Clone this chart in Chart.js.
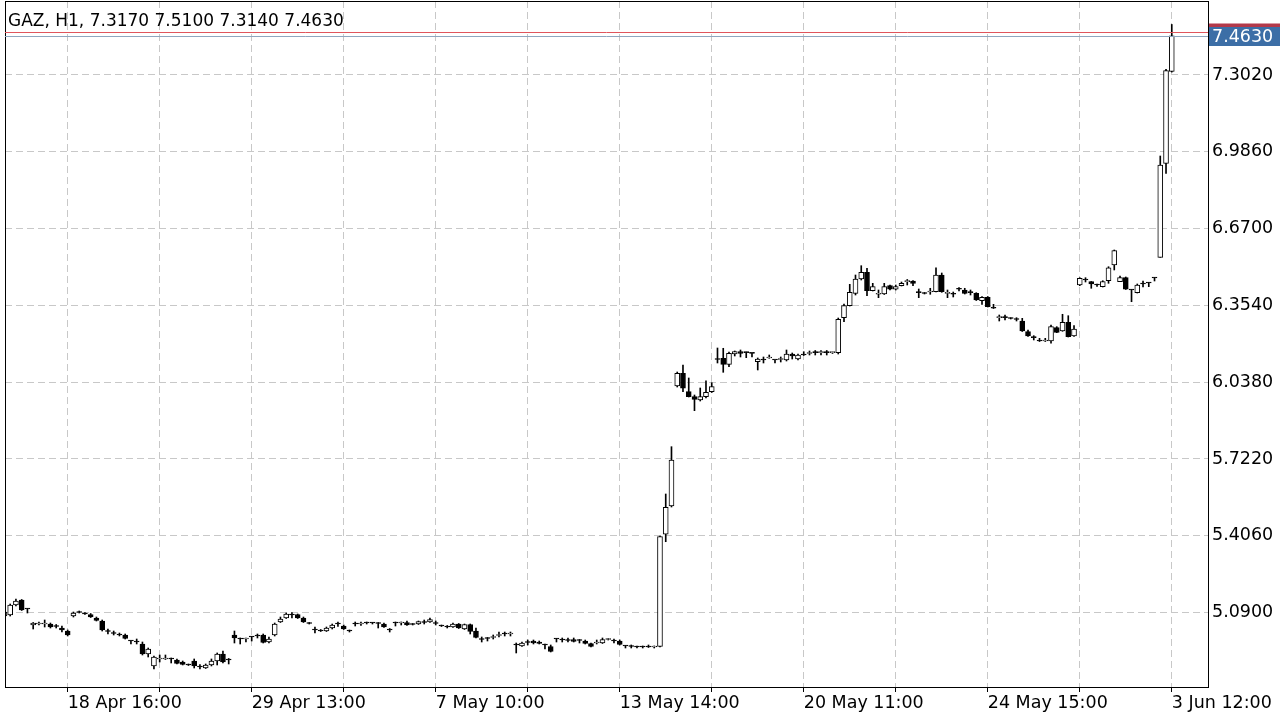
<!DOCTYPE html>
<html>
<head>
<meta charset="utf-8">
<title>GAZ, H1</title>
<script src="https://cdn.jsdelivr.net/npm/chart.js@4.4.1/dist/chart.umd.min.js"></script>
<style>
    html, body { margin: 0; padding: 0; background: #fff; }
    #gazChart { display: block; }
</style>
</head>
<body>
<canvas id="gazChart" width="1280" height="719"></canvas>
<script>
const symbol = 'GAZ';
const timeframe = 'H1';

// one value per H1 bar, oldest first
const opens = [
    5.0757, 5.0799, 5.1210, 5.1416, 5.1045, 5.0387, 5.0428, 5.0428, 5.0428, 5.0346,
    5.0264, 5.0140, 5.0757, 5.0922, 5.0881, 5.0819, 5.0675, 5.0552, 5.0140, 5.0058,
    5.0017, 4.9976, 4.9729, 4.9729, 4.9606, 4.9194, 4.8701, 4.8989, 4.8989, 4.9010,
    4.8947, 4.8865, 4.8762, 4.8906, 4.8660, 4.8618, 4.8742, 4.8906, 4.9194, 4.8989,
    4.9976, 4.9832, 4.9811, 4.9894, 4.9935, 4.9976, 4.9688, 4.9976, 5.0511, 5.0675,
    5.0799, 5.0819, 5.0675, 5.0469, 5.0202, 5.0181, 5.0140, 5.0264, 5.0428, 5.0346,
    5.0161, 5.0428, 5.0428, 5.0490, 5.0469, 5.0469, 5.0428, 5.0202, 5.0469, 5.0469,
    5.0490, 5.0428, 5.0428, 5.0511, 5.0511, 5.0469, 5.0367, 5.0346, 5.0305, 5.0428,
    5.0223, 5.0408, 5.0140, 4.9811, 4.9853, 4.9873, 4.9955, 5.0017, 5.0017, 4.9565,
    4.9524, 4.9668, 4.9729, 4.9688, 4.9585, 4.9503, 4.9811, 4.9770, 4.9770, 4.9791,
    4.9770, 4.9729, 4.9626, 4.9647, 4.9647, 4.9791, 4.9750, 4.9729, 4.9524, 4.9503,
    4.9503, 4.9503, 4.9482, 4.9482, 4.9503, 5.4120, 5.5284, 6.0222, 6.0745, 5.9988,
    5.9782, 5.9646, 5.9782, 5.9988, 6.1333, 6.1362, 6.1115, 6.1539, 6.1634, 6.1601,
    6.1580, 6.1222, 6.1292, 6.1375, 6.1292, 6.1313, 6.1292, 6.1539, 6.1333, 6.1498,
    6.1560, 6.1593, 6.1593, 6.1601, 6.1593, 6.1593, 6.3033, 6.3527, 6.4037, 6.4625,
    6.4901, 6.4144, 6.3996, 6.4008, 6.4350, 6.4202, 6.4350, 6.4514, 6.4543, 6.4062,
    6.4049, 6.4090, 6.4103, 6.4790, 6.4037, 6.4008, 6.4202, 6.4173, 6.4078, 6.4037,
    6.3732, 6.3872, 6.3420, 6.3033, 6.3041, 6.3020, 6.2979, 6.2897, 6.2457, 6.2210,
    6.2074, 6.2074, 6.2074, 6.2622, 6.2486, 6.2844, 6.2280, 6.4378, 6.4584, 6.4514,
    6.4378, 6.4309, 6.4555, 6.5201, 6.4514, 6.4679, 6.4173, 6.4062, 6.4420, 6.4477,
    6.4679, 6.5518, 6.9386, 7.3170
];
const highs = [
    5.0963, 5.1251, 5.1457, 5.1437, 5.1066, 5.0490, 5.0511, 5.0593, 5.0469, 5.0408,
    5.0346, 5.0181, 5.0922, 5.0963, 5.0901, 5.0860, 5.0716, 5.0593, 5.0223, 5.0140,
    5.0058, 5.0017, 4.9750, 4.9811, 4.9688, 4.9441, 4.9112, 4.9153, 4.9153, 4.9030,
    4.8989, 4.8906, 4.8783, 4.8989, 4.8762, 4.8783, 4.8989, 4.9236, 4.9318, 4.9010,
    5.0140, 4.9853, 4.9853, 4.9914, 5.0017, 5.0017, 4.9894, 5.0469, 5.0716, 5.0881,
    5.0901, 5.0840, 5.0716, 5.0490, 5.0305, 5.0202, 5.0305, 5.0428, 5.0511, 5.0387,
    5.0181, 5.0511, 5.0511, 5.0511, 5.0490, 5.0490, 5.0469, 5.0243, 5.0511, 5.0511,
    5.0552, 5.0449, 5.0552, 5.0593, 5.0675, 5.0552, 5.0387, 5.0367, 5.0469, 5.0449,
    5.0428, 5.0428, 5.0264, 4.9894, 4.9873, 4.9976, 5.0099, 5.0099, 5.0099, 4.9647,
    4.9688, 4.9770, 4.9770, 4.9729, 4.9606, 4.9565, 4.9832, 4.9853, 4.9853, 4.9853,
    4.9791, 4.9770, 4.9647, 4.9770, 4.9853, 4.9832, 4.9811, 4.9770, 4.9544, 4.9565,
    4.9524, 4.9524, 4.9565, 4.9524, 5.4050, 5.5778, 5.7725, 6.0798, 6.1086, 6.0552,
    5.9852, 6.0140, 6.0440, 6.0358, 6.1786, 6.1774, 6.1622, 6.1663, 6.1704, 6.1622,
    6.1589, 6.1375, 6.1416, 6.1498, 6.1300, 6.1416, 6.1704, 6.1580, 6.1539, 6.1634,
    6.1663, 6.1683, 6.1683, 6.1683, 6.1622, 6.3020, 6.3597, 6.4407, 6.4790, 6.5173,
    6.5066, 6.4448, 6.4173, 6.4448, 6.4378, 6.4378, 6.4502, 6.4605, 6.4564, 6.4214,
    6.4070, 6.4243, 6.5090, 6.4872, 6.4173, 6.4090, 6.4276, 6.4243, 6.4173, 6.4062,
    6.3905, 6.3905, 6.3584, 6.3144, 6.3144, 6.3033, 6.3033, 6.3008, 6.2527, 6.2293,
    6.2185, 6.2185, 6.2733, 6.2663, 6.3173, 6.3115, 6.2704, 6.4679, 6.4679, 6.4522,
    6.4420, 6.4555, 6.5131, 6.5819, 6.4749, 6.4708, 6.4194, 6.4420, 6.4543, 6.4481,
    6.4687, 6.9687, 7.3255, 7.5100
];
const lows = [
    5.0716, 5.0757, 5.1169, 5.0984, 5.0881, 5.0223, 5.0387, 5.0305, 5.0264, 5.0264,
    5.0099, 4.9935, 5.0716, 5.0881, 5.0819, 5.0696, 5.0552, 5.0140, 5.0017, 4.9976,
    4.9935, 4.9811, 4.9606, 4.9606, 4.9153, 4.9071, 4.8577, 4.8865, 4.8968, 4.8824,
    4.8783, 4.8742, 4.8721, 4.8618, 4.8577, 4.8598, 4.8701, 4.8742, 4.8824, 4.8783,
    4.9647, 4.9606, 4.9688, 4.9729, 4.9853, 4.9647, 4.9647, 4.9935, 5.0490, 5.0655,
    5.0675, 5.0655, 5.0490, 5.0428, 5.0058, 5.0120, 5.0120, 5.0223, 5.0325, 5.0202,
    5.0099, 5.0346, 5.0367, 5.0428, 5.0428, 5.0264, 5.0284, 5.0099, 5.0346, 5.0387,
    5.0367, 5.0387, 5.0408, 5.0428, 5.0490, 5.0387, 5.0325, 5.0264, 5.0284, 5.0243,
    5.0202, 5.0017, 4.9853, 4.9688, 4.9729, 4.9811, 4.9894, 4.9935, 4.9935, 4.9236,
    4.9503, 4.9565, 4.9606, 4.9606, 4.9400, 4.9277, 4.9688, 4.9688, 4.9688, 4.9688,
    4.9647, 4.9606, 4.9482, 4.9606, 4.9626, 4.9770, 4.9647, 4.9565, 4.9441, 4.9441,
    4.9441, 4.9441, 4.9462, 4.9441, 4.9482, 5.3815, 5.5243, 6.0181, 5.9988, 5.9770,
    5.9206, 5.9605, 5.9729, 5.9955, 6.1169, 6.0786, 6.1017, 6.1457, 6.1416, 6.1387,
    6.1416, 6.0881, 6.1169, 6.1362, 6.1169, 6.1210, 6.1251, 6.1333, 6.1292, 6.1477,
    6.1498, 6.1498, 6.1498, 6.1498, 6.1560, 6.1539, 6.2868, 6.3514, 6.3967, 6.4584,
    6.3938, 6.4132, 6.3856, 6.3988, 6.4173, 6.4173, 6.4338, 6.4378, 6.4350, 6.3856,
    6.4008, 6.3996, 6.4090, 6.4078, 6.3856, 6.3885, 6.4132, 6.4008, 6.3967, 6.3741,
    6.3584, 6.3473, 6.3412, 6.2897, 6.2938, 6.2979, 6.2897, 6.2465, 6.2260, 6.2116,
    6.2053, 6.2053, 6.1980, 6.2416, 6.2473, 6.2239, 6.2260, 6.4350, 6.4502, 6.4243,
    6.4325, 6.4296, 6.4448, 6.4996, 6.4514, 6.4194, 6.3691, 6.4049, 6.4296, 6.4309,
    6.4543, 6.5518, 6.8975, 7.3140
];
const closes = [
    5.0922, 5.1210, 5.1375, 5.1004, 5.1045, 5.0469, 5.0449, 5.0449, 5.0305, 5.0325,
    5.0181, 4.9976, 5.0881, 5.0901, 5.0840, 5.0716, 5.0572, 5.0181, 5.0120, 5.0037,
    4.9976, 4.9832, 4.9729, 4.9688, 4.9194, 4.9400, 4.9071, 4.9030, 4.9010, 4.8989,
    4.8803, 4.8762, 4.8742, 4.8701, 4.8660, 4.8742, 4.8906, 4.9194, 4.8865, 4.8947,
    4.9853, 4.9811, 4.9853, 4.9894, 4.9935, 4.9668, 4.9811, 5.0428, 5.0634, 5.0840,
    5.0799, 5.0675, 5.0511, 5.0449, 5.0181, 5.0140, 5.0264, 5.0387, 5.0428, 5.0223,
    5.0140, 5.0428, 5.0449, 5.0469, 5.0469, 5.0449, 5.0305, 5.0181, 5.0469, 5.0490,
    5.0387, 5.0408, 5.0531, 5.0490, 5.0614, 5.0449, 5.0346, 5.0305, 5.0428, 5.0264,
    5.0408, 5.0120, 4.9873, 4.9791, 4.9832, 4.9894, 4.9976, 5.0017, 5.0037, 4.9565,
    4.9647, 4.9668, 4.9647, 4.9626, 4.9565, 4.9297, 4.9811, 4.9770, 4.9750, 4.9709,
    4.9750, 4.9626, 4.9503, 4.9668, 4.9791, 4.9811, 4.9729, 4.9585, 4.9524, 4.9503,
    4.9482, 4.9482, 4.9482, 4.9503, 5.4021, 5.5231, 5.7177, 6.0745, 6.0128, 5.9782,
    5.9675, 5.9782, 5.9963, 6.0194, 6.1313, 6.1115, 6.1568, 6.1634, 6.1568, 6.1593,
    6.1568, 6.1333, 6.1292, 6.1387, 6.1292, 6.1333, 6.1539, 6.1457, 6.1498, 6.1498,
    6.1568, 6.1593, 6.1601, 6.1593, 6.1601, 6.2967, 6.3527, 6.4078, 6.4625, 6.4901,
    6.4144, 6.4309, 6.4008, 6.4309, 6.4202, 6.4309, 6.4448, 6.4522, 6.4448, 6.4062,
    6.4029, 6.4111, 6.4790, 6.4103, 6.4049, 6.3996, 6.4202, 6.4037, 6.4062, 6.3761,
    6.3872, 6.3486, 6.3420, 6.3041, 6.3033, 6.2999, 6.2959, 6.2486, 6.2280, 6.2210,
    6.2074, 6.2087, 6.2663, 6.2432, 6.2844, 6.2251, 6.2568, 6.4654, 6.4584, 6.4420,
    6.4378, 6.4514, 6.5090, 6.5790, 6.4679, 6.4202, 6.4173, 6.4378, 6.4420, 6.4461,
    6.4667, 6.9316, 7.3197, 7.4630
];

// vertical grid every 16 bars, a time label on every second line
const gridBars = [11, 27, 43, 59, 75, 91, 107, 123, 139, 155, 171, 187, 203];
const timeLabels = ['18 Apr 16:00', '', '29 Apr 13:00', '', '7 May 10:00', '', '13 May 14:00', '',
    '20 May 11:00', '', '24 May 15:00', '', '3 Jun 12:00'];
const priceTicks = [5.0900, 5.4060, 5.7220, 6.0380, 6.3540, 6.6700, 6.9860, 7.3020];
const askPrice = 7.4790;

const last = closes.length - 1;
const bidPrice = closes[last];

const wickData = highs.map((h, i) => ({ x: i, y: [lows[i], h] }));
const bodyData = opens.map((o, i) => ({ x: i, y: [Math.min(o, closes[i]), Math.max(o, closes[i])] }));
const bodyFill = opens.map((o, i) => closes[i] > o ? '#ffffff' : '#000000');

const FONT = { family: "'DejaVu Sans', sans-serif", size: 17.5 };
const fontStr = "17px 'DejaVu Sans', sans-serif";

const overlay = {
    id: 'overlay',
    afterDraw(chart) {
        const c = chart.ctx;
        const area = chart.chartArea;
        const yScale = chart.scales.y;
        c.save();

        c.strokeStyle = '#000';
        c.lineWidth = 1;
        c.strokeRect(area.left + 0.5, area.top + 0.5, area.right - area.left, area.bottom - area.top);

        const askY = Math.round(yScale.getPixelForValue(askPrice)) + 0.5;
        const bidY = Math.round(yScale.getPixelForValue(bidPrice)) + 0.5;

        c.strokeStyle = '#8fa6bf';
        c.beginPath();
        c.moveTo(area.left, bidY);
        c.lineTo(area.right, bidY);
        c.stroke();

        c.strokeStyle = '#e0555c';
        c.beginPath();
        c.moveTo(area.left, askY);
        c.lineTo(area.right, askY);
        c.stroke();

        // price boxes on the axis
        c.fillStyle = '#b2394a';
        c.fillRect(area.right + 1, askY - 9, chart.width - area.right - 1, 18);
        c.fillStyle = '#3c6ea6';
        c.fillRect(area.right + 1, bidY - 9.5, chart.width - area.right - 1, 19);
        c.fillStyle = '#fff';
        c.font = "17.5px 'DejaVu Sans', sans-serif";
        c.textBaseline = 'middle';
        c.textAlign = 'left';
        c.fillText(bidPrice.toFixed(4), area.right + 4, bidY + 1);

        c.fillStyle = '#000';
        c.font = fontStr;
        c.textBaseline = 'alphabetic';
        const head = `${symbol}, ${timeframe}, ${opens[last].toFixed(4)} ${highs[last].toFixed(4)} ${lows[last].toFixed(4)} ${closes[last].toFixed(4)}`;
        c.fillText(head, 8, 26);
        c.restore();
    }
};

const ctx = document.getElementById('gazChart').getContext('2d');
const gazChart = new Chart(ctx, {
    type: 'bar',
    data: {
        datasets: [{
            label: 'body',
            data: bodyData,
            backgroundColor: bodyFill,
            borderColor: '#000',
            borderWidth: 1,
            borderSkipped: false,
            barThickness: 5,
            minBarLength: 1,
            grouped: false,
            order: 0
        }, {
            label: 'wick',
            data: wickData,
            backgroundColor: '#000',
            borderWidth: 0,
            barThickness: 1,
            grouped: false,
            order: 1
        }]
    },
    options: {
        responsive: false,
        animation: false,
        events: [],
        layout: { padding: { top: 1, left: 5, right: 0, bottom: 0 } },
        plugins: {
            legend: { display: false },
            tooltip: { enabled: false }
        },
        scales: {
            x: {
                type: 'linear',
                min: 0.1,
                max: 209.3,
                offset: false,
                afterBuildTicks: s => { s.ticks = gridBars.map(v => ({ value: v })); },
                afterFit: s => { s.height = 32; s.paddingLeft = 0; s.paddingRight = 0; },
                ticks: {
                    autoSkip: false,
                    maxRotation: 0,
                    minRotation: 0,
                    align: 'start',
                    padding: 1,
                    color: '#000',
                    font: FONT,
                    callback: (v, i) => timeLabels[i]
                },
                grid: { offset: false, color: '#c8c8c8', tickLength: 5, tickColor: '#000' },
                border: { color: '#000', dash: [7, 4] }
            },
            y: {
                position: 'right',
                min: 4.7836,
                max: 7.6065,
                afterBuildTicks: s => { s.ticks = priceTicks.map(v => ({ value: v })); },
                afterFit: s => { s.width = 72; s.paddingTop = 0; s.paddingBottom = 0; },
                ticks: {
                    padding: 4,
                    color: '#000',
                    font: FONT,
                    callback: v => v.toFixed(4)
                },
                grid: { color: '#c8c8c8', drawTicks: false },
                border: { color: '#000', dash: [7, 4] }
            }
        }
    },
    plugins: [overlay]
});
</script>
</body>
</html>
